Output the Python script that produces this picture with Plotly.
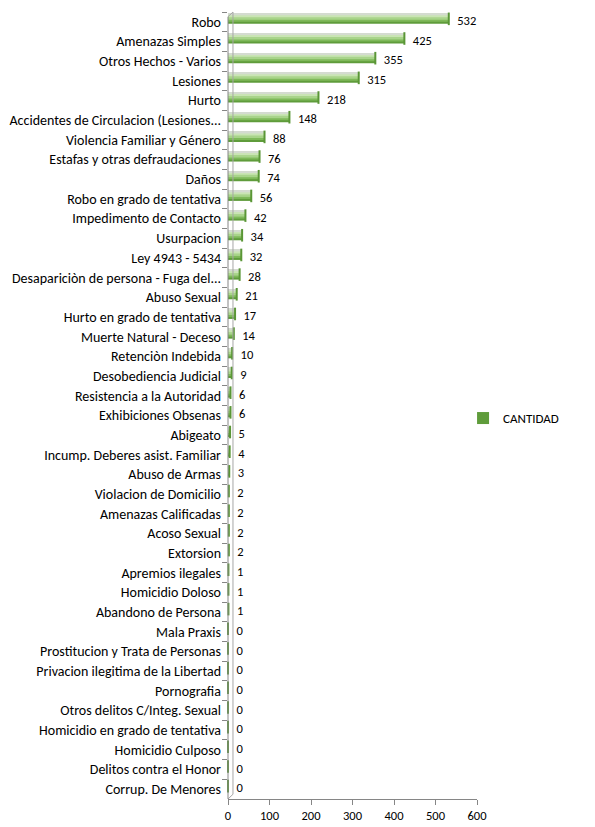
import plotly.graph_objects as go

categories = [
    "Robo", "Amenazas Simples", "Otros Hechos - Varios", "Lesiones", "Hurto",
    "Accidentes de Circulacion (Lesiones...", "Violencia Familiar y Género",
    "Estafas y otras defraudaciones", "Daños", "Robo en grado de tentativa",
    "Impedimento de Contacto", "Usurpacion", "Ley 4943 - 5434",
    "Desapariciòn de persona - Fuga del...", "Abuso Sexual",
    "Hurto en grado de tentativa", "Muerte Natural - Deceso", "Retenciòn Indebida",
    "Desobediencia Judicial", "Resistencia a la Autoridad", "Exhibiciones Obsenas",
    "Abigeato", "Incump. Deberes asist. Familiar", "Abuso de Armas",
    "Violacion de Domicilio", "Amenazas Calificadas", "Acoso Sexual", "Extorsion",
    "Apremios ilegales", "Homicidio Doloso", "Abandono de Persona", "Mala Praxis",
    "Prostitucion y Trata de Personas", "Privacion ilegitima de la Libertad",
    "Pornografia", "Otros delitos C/Integ. Sexual", "Homicidio en grado de tentativa",
    "Homicidio Culposo", "Delitos contra el Honor", "Corrup. De Menores",
]
cantidad = [
    532, 425, 355, 315, 218, 148, 88, 76, 74, 56, 42, 34, 32, 28, 21, 17, 14, 10,
    9, 6, 6, 5, 4, 3, 2, 2, 2, 2, 1, 1, 1, 0, 0, 0, 0, 0, 0, 0, 0, 0,
]
x_ticks = [0, 100, 200, 300, 400, 500, 600]

FONT = "Carlito, Lato, sans-serif"
n = len(categories)
PX = 1 / 19.67  # one pixel in category units

fig = go.Figure()

# cylinder-like shading: stacked layers, from the dark underside to the pale top edge
layers = [
    ("#5f9c3b", -8, 10),
    ("#7fb95a", -8, 8),
    ("#a8d48a", -8, 6),
    ("#c9e4b4", -8, 3.5),
    ("#d4dbd0", -8, 1.5),
]
for i, (color, off, w) in enumerate(layers):
    fig.add_trace(go.Bar(
        x=cantidad, y=categories, orientation="h",
        name="CANTIDAD", showlegend=(i == 0),
        hoverinfo="x+y" if i == 0 else "skip",
        width=w * PX, offset=off * PX,
        marker=dict(color=color, line=dict(width=0)),
    ))

# rounded end caps, drawn on a hidden numeric twin axis
idx = list(range(n))
fig.add_trace(go.Scatter(
    x=cantidad, y=[i - 3 * PX for i in idx], yaxis="y2", mode="markers",
    showlegend=False, hoverinfo="skip", cliponaxis=False,
    marker=dict(symbol="line-ns", size=9, line=dict(color="#5a9636", width=2)),
))

# value labels beside each bar
fig.add_trace(go.Scatter(
    x=cantidad, y=categories, mode="text", showlegend=False, hoverinfo="skip",
    text=cantidad, texttemplate="   %{x}", textposition="middle right",
    textfont=dict(family=FONT, size=12.5, color="#000"), cliponaxis=False,
))

# 3D back wall edges
wall = dict(color="#a6a6a6", width=1)
dx, dy = 0.02, 0.006
fig.add_shape(type="line", xref="x domain", yref="y domain",
              x0=dx, x1=dx, y0=dy, y1=1, line=wall)
fig.add_shape(type="line", xref="x domain", yref="y domain",
              x0=0, x1=dx, y0=1 - dy, y1=1, line=wall)
fig.add_shape(type="line", xref="x domain", yref="y domain",
              x0=0, x1=dx, y0=0, y1=dy, line=wall)
fig.add_shape(type="line", xref="x domain", yref="y domain",
              x0=0, x1=0, y0=0, y1=1 - dy, line=dict(color="#868686", width=1))

fig.update_layout(
    width=595, height=827,
    margin=dict(l=228, r=118, t=12, b=28),
    barmode="overlay",
    plot_bgcolor="white", paper_bgcolor="white",
    font=dict(family=FONT, size=12, color="#000"),
    legend=dict(x=0.944, y=0.484, xanchor="left", yanchor="middle",
                font=dict(family=FONT, size=13), itemwidth=30),
    xaxis=dict(range=[0, 600], tickvals=x_ticks, showgrid=False, zeroline=False,
               showline=True, linecolor="#868686", ticks="outside", ticklen=5,
               tickcolor="#868686", tickfont=dict(family=FONT, size=12.5),
               automargin=False),
    yaxis=dict(categoryorder="array", categoryarray=categories,
               range=[n - 0.5, -0.5], automargin=False,
               showgrid=False, zeroline=False, showline=False,
               ticks="outside", ticklen=5, tickcolor="#868686", tickson="boundaries",
               ticklabelstandoff=6, tickfont=dict(family=FONT, size=14)),
    yaxis2=dict(overlaying="y", range=[n - 0.5, -0.5], visible=False),
)

fig.write_html("out.html")
